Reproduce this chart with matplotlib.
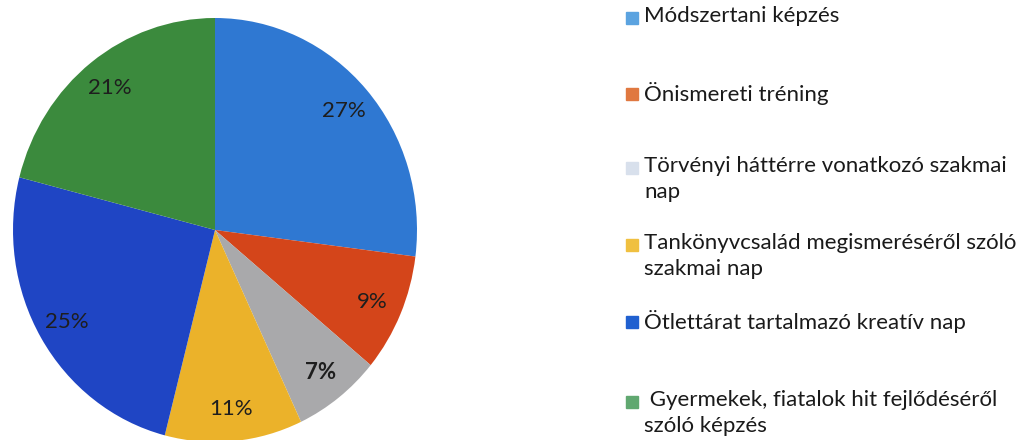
import matplotlib
matplotlib.use('Agg')
import matplotlib.pyplot as plt

plt.rcParams['font.family'] = ['Lato', 'DejaVu Sans']

# kepzesi formak es aranyuk (%)
kategoriak = ['Módszertani képzés',
              'Önismereti tréning',
              'Törvényi háttérre vonatkozó szakmai\nnap',
              'Tankönyvcsalád megismeréséről szóló\nszakmai nap',
              'Ötlettárat tartalmazó kreatív nap',
              ' Gyermekek, fiatalok hit fejlődéséről\nszóló képzés']
ertekek = [27, 9, 7, 11, 25, 21]
szinek = ['#2f78d2', '#d4451a', '#a9a9ab', '#ebb22a', '#1f45c4', '#3b8a3d']
jel_szinek = ['#5ba3e0', '#e07840', '#d8e0ec', '#f0c040', '#2060d0', '#60a870']

# legend sorok fuggoleges helye (pixel, felulrol, az elso sor kozepe)
jel_y = [18, 94, 168, 245, 322, 402]

fig = plt.figure(figsize=(10.16, 4.4), dpi=100)

# a kor kicsit elnyujtott, ezert auto aspect
ax = fig.add_axes([13 / 1016, (440 - 442) / 440, 404 / 1016, 424 / 440])
wedges, texts, autotexts = ax.pie(ertekek, colors=szinek, startangle=90,
                                  counterclock=False, autopct='%d%%',
                                  pctdistance=0.85,
                                  textprops={'fontsize': 16, 'color': '#1e1e1e'})
autotexts[2].set_fontweight('bold')
ax.set_aspect('auto')
ax.set_xlim(-1, 1)
ax.set_ylim(-1, 1)

# jelmagyarazat kezzel
for nev, szin, y in zip(kategoriak, jel_szinek, jel_y):
    yf = 1 - y / 440
    fig.patches.append(plt.Rectangle((626 / 1016, yf - 6 / 440), 12 / 1016, 12 / 440,
                                     transform=fig.transFigure, color=szin))
    fig.text(644 / 1016, yf + 12 / 440, nev, fontsize=16, va='top', ha='left',
             color='#1a1a1a', linespacing=1.4,
             transform=fig.transFigure)

fig.savefig('out.png', dpi=100)
